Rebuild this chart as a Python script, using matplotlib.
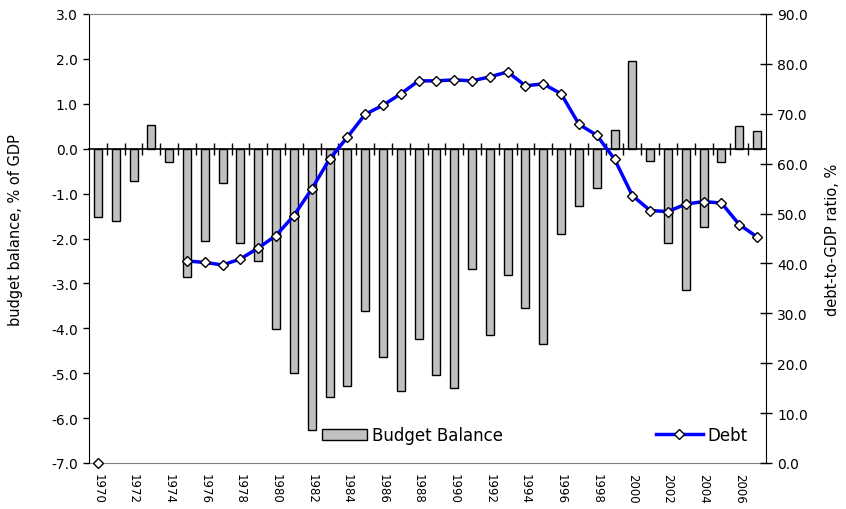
import numpy as np
import matplotlib
matplotlib.use('Agg')
import matplotlib.pyplot as plt

# data
years = list(range(1970, 2008))
balance = [-1.52, -1.61, -0.72, 0.53, -0.29, -2.86, -2.06, -0.76, -2.10, -2.50,
           -4.02, -5.00, -6.26, -5.53, -5.29, -3.61, -4.65, -5.39, -4.23, -5.03,
           -5.33, -2.67, -4.16, -2.81, -3.54, -4.36, -1.91, -1.27, -0.88, 0.42,
           1.95, -0.27, -2.11, -3.15, -1.75, -0.29, 0.50, 0.39]
debt = [0.0, np.nan, np.nan, np.nan, np.nan, 40.5, 40.2, 39.7, 40.9, 43.1,
        45.6, 49.6, 54.9, 60.9, 65.3, 69.9, 71.7, 74.0, 76.6, 76.6,
        76.8, 76.6, 77.4, 78.4, 75.6, 76.0, 74.0, 67.9, 65.7, 60.9,
        53.6, 50.6, 50.4, 51.9, 52.4, 52.1, 47.8, 45.3]
left_ticks = [3.0, 2.0, 1.0, 0.0, -1.0, -2.0, -3.0, -4.0, -5.0, -6.0, -7.0]
right_ticks = [0, 10, 20, 30, 40, 50, 60, 70, 80, 90]

x = np.arange(len(years))

fig = plt.figure(figsize=(8.46, 5.10), dpi=100)
fig.subplots_adjust(left=89/846, right=766/846, top=1-15/510, bottom=1-464/510)
ax = fig.add_subplot(111)

bars = ax.bar(x, balance, width=0.45, color='#C0C0C0', edgecolor='black', linewidth=1, zorder=2)
ax.set_xlim(-0.5, len(years) - 0.5)
ax.set_ylim(-7, 3)
ax.set_yticks(left_ticks)
ax.set_yticklabels(['%.1f' % v for v in left_ticks], fontsize=10)
ax.tick_params(axis='y', direction='out', length=4, width=1, pad=4)
ax.set_ylabel('budget balance, % of GDP', fontsize=10.5)
ax.yaxis.set_label_coords(-0.098, 0.52)

# category axis crossing at zero, ticks between categories
ax.spines['bottom'].set_position(('data', 0))
ax.spines['bottom'].set_linewidth(1.2)
ax.set_xticks(x[:-1] + 0.5)
ax.tick_params(axis='x', direction='inout', length=8, width=1, labelbottom=False)
ax.spines['top'].set_color('#808080')
ax.spines['right'].set_visible(False)

# year labels at the bottom of the plot area
sec = ax.secondary_xaxis(0.0)
sec.set_xticks(x[::2])
sec.set_xticklabels([str(y) for y in years[::2]], rotation=-90, fontsize=8.5)
sec.tick_params(length=0, pad=7)
sec.spines['bottom'].set_color('#808080')

ax2 = ax.twinx()
line, = ax2.plot(x, debt, color='#0000FF', linewidth=2.5, marker='D', markersize=5.5,
                 markerfacecolor='white', markeredgecolor='black', markeredgewidth=1,
                 clip_on=False, zorder=3)
ax2.set_ylim(0, 90)
ax2.set_yticks(right_ticks)
ax2.set_yticklabels(['%.1f' % v for v in right_ticks], fontsize=10)
ax2.tick_params(axis='y', direction='inout', length=8, width=1, pad=4)
ax2.set_ylabel('debt-to-GDP ratio, %', fontsize=10.5, labelpad=12)
ax2.spines['top'].set_visible(False)
ax2.spines['bottom'].set_visible(False)
ax2.spines['left'].set_visible(False)

leg1 = ax.legend([bars], ['Budget Balance'], loc='center left', bbox_to_anchor=(0.344, 0.062),
                 frameon=False, fontsize=12, handlelength=2.7, handleheight=0.6,
                 handletextpad=0.3, borderpad=0, borderaxespad=0)
leg2 = ax2.legend([line], ['Debt'], loc='center left', bbox_to_anchor=(0.8375, 0.062),
                  frameon=False, fontsize=12, handlelength=2.8,
                  handletextpad=0.3, borderpad=0, borderaxespad=0)

fig.savefig('out.png', dpi=100)
